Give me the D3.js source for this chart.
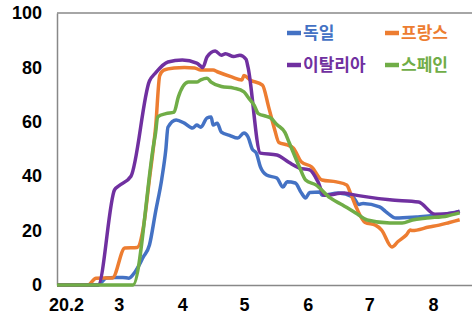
<!DOCTYPE html>
<html>
<head>
<meta charset="utf-8">
<script src="https://cdn.jsdelivr.net/npm/d3@7"></script>
<style>
  body { margin: 0; background: #fff; }
  .axis text { font-family: "Liberation Sans", Arial, sans-serif; font-weight: bold; font-size: 18px; fill: #000; }
  .legend text { font-family: "Noto Sans CJK KR", sans-serif; font-weight: bold; font-size: 17px; }
</style>
</head>
<body>
<svg id="chart" width="472" height="316"></svg>
<script>
// mobility index by country, 2020 (dates as yyyy-mm-dd, value)
var germany = [
  ["2020-01-31",0],["2020-02-20",0],["2020-02-24",2.6],["2020-02-28",2.8],["2020-03-03",2.8],
  ["2020-03-06",2.5],["2020-03-09",4.8],["2020-03-13",10.3],["2020-03-16",14.7],["2020-03-19",27],
  ["2020-03-22",39],["2020-03-24",50],["2020-03-25",58],["2020-03-29",60.7],["2020-04-02",59.5],
  ["2020-04-06",57.7],["2020-04-08",58.8],["2020-04-10",58],["2020-04-13",61.4],["2020-04-15",61.8],
  ["2020-04-16",58.8],["2020-04-18",59.5],["2020-04-20",56.2],["2020-04-24",55],["2020-04-28",54],
  ["2020-05-01",55.9],["2020-05-03",54.4],["2020-05-05",50],["2020-05-07",48.5],["2020-05-09",43.4],
  ["2020-05-12",40.4],["2020-05-17",39.3],["2020-05-20",36],["2020-05-22",38],["2020-05-26",37.5],
  ["2020-05-29",33.8],["2020-05-31",32],["2020-06-02",34],["2020-06-07",34.2],["2020-06-08",33],
  ["2020-06-16",33.8],["2020-06-23",32.4],["2020-06-26",29.6],["2020-06-28",30],["2020-07-06",28.7],
  ["2020-07-09",27],["2020-07-14",24.6],["2020-07-24",25],["2020-08-04",25.7],["2020-08-14",27]
];
var france = [
  ["2020-01-31",0],["2020-02-15",0],["2020-02-19",2.5],["2020-02-27",2.6],["2020-03-04",13.6],
  ["2020-03-10",13.8],["2020-03-13",21],["2020-03-16",39],["2020-03-18",51],["2020-03-19",58],
  ["2020-03-21",77],["2020-03-23",79],["2020-03-28",79.8],["2020-04-02",80],["2020-04-07",79.8],
  ["2020-04-10",79],["2020-04-16",79],["2020-04-18",78.4],["2020-04-25",76.5],["2020-04-30",75.4],
  ["2020-05-01",77],["2020-05-04",75.4],["2020-05-10",73.5],["2020-05-13",65.5],["2020-05-16",57],
  ["2020-05-18",52.4],["2020-05-22",51.5],["2020-05-25",50.4],["2020-05-29",45.2],["2020-06-03",43.4],
  ["2020-06-08",38.6],["2020-06-15",37.9],["2020-06-20",36.8],["2020-06-22",33.5],["2020-06-25",28],
  ["2020-06-29",23],["2020-07-04",22],["2020-07-07",20.2],["2020-07-12",14],["2020-07-15",16],
  ["2020-07-19",18.4],["2020-07-21",20.2],["2020-07-22",20],["2020-07-30",21.3],["2020-08-04",22],
  ["2020-08-09",23],["2020-08-14",24]
];
var italy = [
  ["2020-01-31",0],["2020-02-20",0],["2020-02-28",35],["2020-03-01",36.4],["2020-03-07",40],
  ["2020-03-16",75],["2020-03-19",78],["2020-03-25",82],["2020-04-01",82.7],["2020-04-08",81.6],
  ["2020-04-11",80],["2020-04-13",83.8],["2020-04-17",86],["2020-04-20",84.5],["2020-04-22",85],
  ["2020-04-26",84],["2020-04-29",84.5],["2020-05-02",83],["2020-05-03",80],["2020-05-09",48.5],
  ["2020-05-17",47.8],["2020-05-23",45],["2020-05-28",43],["2020-06-02",42.3],["2020-06-06",38],
  ["2020-06-09",33],["2020-06-19",33.8],["2020-06-21",33.5],["2020-07-11",31.3],["2020-07-25",30.5],
  ["2020-08-02",26],["2020-08-11",26.5],["2020-08-14",27.2]
];
var spain = [
  ["2020-01-31",0],["2020-03-08",0],["2020-03-18",51.5],["2020-03-19",56],["2020-03-20",61.8],
  ["2020-03-24",63],["2020-03-28",63.6],["2020-03-30",69],["2020-04-04",74.6],["2020-04-08",74.6],
  ["2020-04-10",75.4],["2020-04-13",76],["2020-04-15",74.6],["2020-04-20",73],["2020-04-26",72.4],
  ["2020-05-01",71],["2020-05-03",69],["2020-05-06",66],["2020-05-08",63],["2020-05-12",62],
  ["2020-05-14",61.4],["2020-05-17",59],["2020-05-21",56],["2020-05-23",52.4],["2020-05-28",43.4],
  ["2020-05-31",38.6],["2020-06-05",36.8],["2020-06-12",32],["2020-06-18",29.4],["2020-06-25",26.2],
  ["2020-06-30",23.9],["2020-07-11",22.8],["2020-07-17",22.8],["2020-07-22",23.9],["2020-07-29",24.6],
  ["2020-08-08",25.4],["2020-08-14",26.5]
];
var names = ["독일", "프랑스", "이탈리아", "스페인"];
var colors = ["#4472C4", "#ED7D31", "#7030A0", "#70AD47"];
var yTicks = [0, 20, 40, 60, 80, 100];
var xTicks = ["2020-02-01","2020-03-01","2020-04-01","2020-05-01","2020-06-01","2020-07-01","2020-08-01"];
var xLabels = ["20.2", "3", "4", "5", "6", "7", "8"];

var parse = d3.timeParse("%Y-%m-%d");
var allSeries = [germany, france, italy, spain];

var svg = d3.select("#chart");
var plotLeft = 57, plotTop = 13, plotRight = 472, plotBottom = 285;

var x = d3.scaleTime()
  .domain([parse("2020-01-31"), parse("2020-08-20")])
  .range([plotLeft, plotRight]);
var y = d3.scaleLinear().domain([0, 100]).range([plotBottom, plotTop]);

// frame
svg.append("line").attr("x1", plotLeft).attr("x2", plotRight).attr("y1", plotTop).attr("y2", plotTop)
  .attr("stroke", "#888").attr("stroke-width", 1.5);

var yAxis = svg.append("g").attr("class", "axis")
  .attr("transform", "translate(" + plotLeft + ",0)")
  .call(d3.axisLeft(y).tickValues(yTicks).tickSize(0).tickPadding(15));
yAxis.select(".domain").attr("stroke", "#888").attr("stroke-width", 1.5);

var xAxis = svg.append("g").attr("class", "axis")
  .attr("transform", "translate(0," + plotBottom + ")")
  .call(d3.axisBottom(x).tickValues(xTicks.map(parse)).tickSize(0).tickPadding(13)
    .tickFormat(function(d, i) { return xLabels[i]; }));
xAxis.select(".domain").attr("stroke", "#888").attr("stroke-width", 1.5);
xAxis.selectAll(".tick text").attr("dx", function(d, i) { return i == 0 ? 7 : 0; });

var line = d3.line()
  .x(function(d) { return x(parse(d[0])); })
  .y(function(d) { return y(d[1]); })
  .curve(d3.curveMonotoneX);

svg.selectAll("path.series")
  .data(allSeries)
  .enter().append("path")
  .attr("class", "series")
  .attr("d", line)
  .attr("fill", "none")
  .attr("stroke", function(d, i) { return colors[i]; })
  .attr("stroke-width", 3.5)
  .attr("stroke-linejoin", "round");

// legend, two rows of two
var legendPos = [[287, 33], [385, 33], [287, 65], [385, 65]];
var legend = svg.append("g").attr("class", "legend");
var items = legend.selectAll("g").data(names).enter().append("g")
  .attr("transform", function(d, i) { return "translate(" + legendPos[i][0] + "," + legendPos[i][1] + ")"; });
items.append("line")
  .attr("x1", 0).attr("x2", 14).attr("y1", 0).attr("y2", 0)
  .attr("stroke", function(d, i) { return colors[i]; })
  .attr("stroke-width", 4.5);
items.append("text")
  .attr("x", 16).attr("y", 0).attr("dy", "0.35em")
  .attr("fill", function(d, i) { return colors[i]; })
  .text(function(d) { return d; });
</script>
</body>
</html>
